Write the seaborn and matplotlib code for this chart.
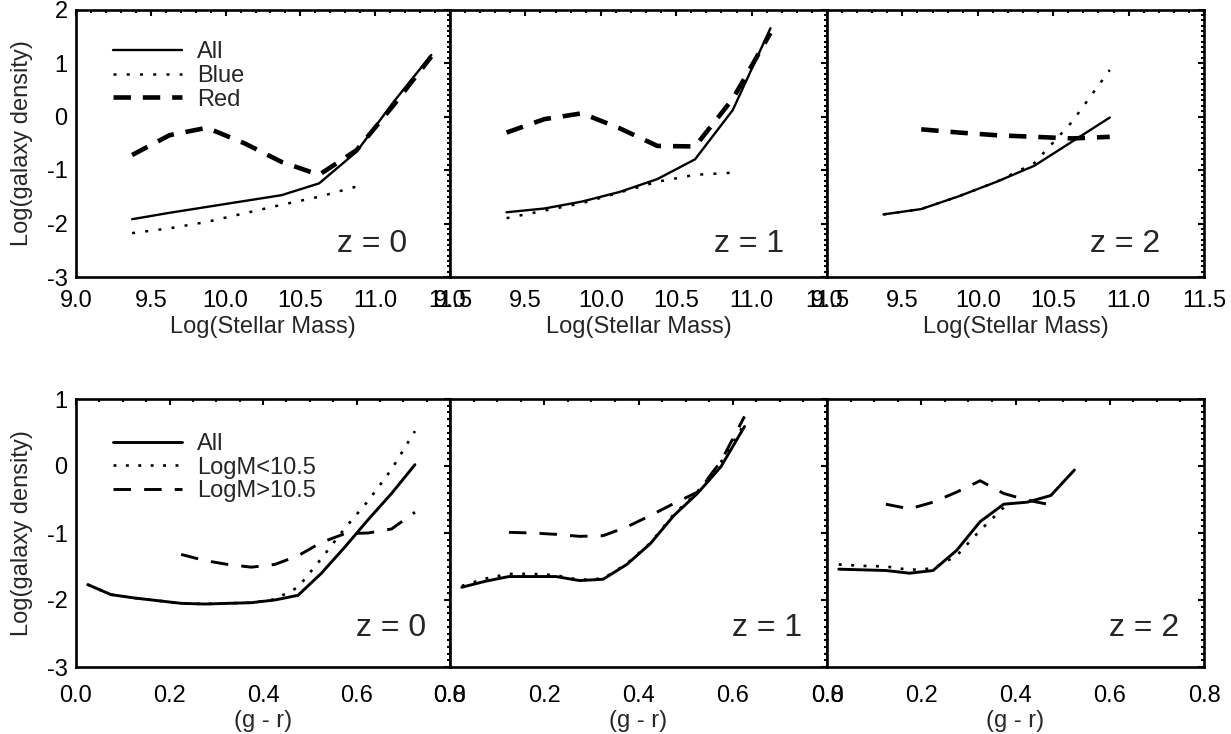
import numpy as np
import pandas as pd
import matplotlib
matplotlib.use("Agg")
import matplotlib.pyplot as plt
import seaborn as sns
from matplotlib.ticker import MultipleLocator, FormatStrFormatter

# ---------------- data ----------------
mass_bins = [9.375, 9.625, 9.875, 10.125, 10.375, 10.625, 10.875, 11.125, 11.375]

all_z0 = [-1.92, -1.80, -1.69, -1.58, -1.47, -1.25, -0.66, 0.28, 1.15]
blue_z0 = [-2.18, -2.09, -1.97, -1.81, -1.65, -1.50, -1.31]
red_z0 = [-0.72, -0.35, -0.21, -0.50, -0.85, -1.09, -0.63, 0.22, 1.12]

all_z1 = [-1.79, -1.72, -1.59, -1.41, -1.17, -0.80, 0.12, 1.65]
blue_z1 = [-1.90, -1.76, -1.62, -1.42, -1.22, -1.09, -1.05]
red_z1 = [-0.30, -0.05, 0.06, -0.22, -0.55, -0.56, 0.33, 1.56]

all_z2 = [-1.83, -1.73, -1.49, -1.22, -0.92, -0.47, -0.02]
blue_z2 = [-1.83, -1.73, -1.49, -1.22, -0.87, -0.10, 0.87]
red_z2 = [-0.24, -0.30, -0.35, -0.38, -0.41, -0.38]
red_z2_start = 1  # red z=2 series starts at the second mass bin

gr_bins = [0.025, 0.075, 0.125, 0.175, 0.225, 0.275, 0.325, 0.375,
           0.425, 0.475, 0.525, 0.575, 0.625, 0.675, 0.725]

gall_z0 = [-1.77, -1.92, -1.97, -2.01, -2.05, -2.06, -2.05, -2.04,
           -2.00, -1.93, -1.60, -1.21, -0.80, -0.41, 0.02]
glow_z0 = [-1.77, -1.92, -1.97, -2.01, -2.05, -2.06, -2.05, -2.04,
           -1.99, -1.81, -1.38, -0.93, -0.52, -0.05, 0.52]
ghigh_z0 = [-1.32, -1.41, -1.47, -1.51, -1.47, -1.34, -1.14, -1.01,
            -1.00, -0.94, -0.69]
ghigh_z0_start = 4

gall_z1 = [-1.81, -1.72, -1.65, -1.65, -1.65, -1.71, -1.69, -1.47,
           -1.16, -0.74, -0.41, -0.01, 0.59]
glow_z1 = [-1.79, -1.68, -1.61, -1.61, -1.63, -1.70, -1.68, -1.46,
           -1.15, -0.72, -0.39, 0.06, 0.63]
ghigh_z1 = [-0.99, -1.00, -1.02, -1.05, -1.04, -0.91, -0.74, -0.56,
            -0.39, 0.07, 0.74]
ghigh_z1_start = 2

gall_z2 = [-1.54, -1.55, -1.56, -1.60, -1.56, -1.26, -0.83, -0.57,
           -0.54, -0.44, -0.06]
glow_z2 = [-1.47, -1.49, -1.50, -1.55, -1.53, -1.34, -0.96, -0.62]
ghigh_z2 = [-0.57, -0.64, -0.54, -0.39, -0.22, -0.41, -0.51, -0.58]
ghigh_z2_start = 2

redshift_labels = ["z = 0", "z = 1", "z = 2"]
top_legend = ["All", "Blue", "Red"]
bottom_legend = ["All", "LogM<10.5", "LogM>10.5"]

# ---------------- style ----------------
sns.set_style("white")
plt.rcParams["font.family"] = ["Liberation Sans", "DejaVu Sans"]
plt.rcParams["axes.unicode_minus"] = False
FS = 17

fig = plt.figure(figsize=(12.31, 7.34), dpi=100)
W, H = 1231.0, 734.0
lefts = [76, 450, 827]
widths = [374, 377, 377]


def make_ax(i, top_px, bot_px):
    return fig.add_axes([lefts[i] / W, (H - bot_px) / H, widths[i] / W,
                         (bot_px - top_px) / H])


def style_ax(ax, xlim, ylim, xmaj, xmin, show_ylabels, xpad):
    ax.set_xlim(*xlim)
    ax.set_ylim(*ylim)
    ax.xaxis.set_major_locator(MultipleLocator(xmaj))
    ax.xaxis.set_minor_locator(MultipleLocator(xmin))
    ax.yaxis.set_major_locator(MultipleLocator(1))
    ax.yaxis.set_minor_locator(MultipleLocator(0.1))
    ax.xaxis.set_major_formatter(FormatStrFormatter("%.1f"))
    ax.yaxis.set_major_formatter(FormatStrFormatter("%d"))
    ax.tick_params(which="both", direction="in", top=True, right=True,
                   color="black", width=1.5, labelsize=FS, labelcolor="black")
    ax.tick_params(which="major", length=4.0)
    ax.tick_params(which="minor", length=2.0)
    ax.tick_params(axis="x", which="major", pad=xpad)
    ax.tick_params(axis="y", which="major", pad=6)
    if not show_ylabels:
        ax.tick_params(axis="y", labelleft=False)
    for s in ax.spines.values():
        s.set_linewidth(1.9)
        s.set_color("black")
    ax.grid(False)


def line(ax, x, y, lw, ls, label=None):
    sns.lineplot(x=x, y=y, ax=ax, color="black", linewidth=lw,
                 linestyle=ls, label=label, legend=False, errorbar=None)


solid = "-"
dot_top = (0, (1.2, 4.1))
dash_thick = (0, (3.8, 2.6))
dot_bot = (0, (1.1, 3.6))
dash_bot = (0, (6.0, 4.5))

# ---------------- top row ----------------
top_sets = [
    (all_z0, blue_z0, red_z0, 0),
    (all_z1, blue_z1, red_z1, 0),
    (all_z2, blue_z2, red_z2, red_z2_start),
]
for i, (a, b, r, rs) in enumerate(top_sets):
    ax = make_ax(i, 9.5, 277)
    line(ax, mass_bins[:len(a)], a, 1.7, solid, top_legend[0])
    line(ax, mass_bins[:len(b)], b, 1.8, dot_top, top_legend[1])
    line(ax, mass_bins[rs:rs + len(r)], r, 3.3, dash_thick, top_legend[2])
    style_ax(ax, (9.0, 11.5), (-3, 2), 0.5, 0.1, i == 0, 9.5)
    ax.set_xlabel("Log(Stellar Mass)", fontsize=FS, labelpad=3)
    if i == 0:
        ax.set_ylabel("Log(galaxy density)", fontsize=FS, labelpad=10)
        ax.legend(loc="upper left", bbox_to_anchor=(0.099, 0.881),
                  frameon=False, fontsize=FS, handlelength=2.92,
                  handletextpad=0.64, labelspacing=0.07, borderpad=0,
                  borderaxespad=0)
    ax.text(0.885, 0.093, redshift_labels[i], transform=ax.transAxes,
            ha="right", va="baseline", fontsize=23)

# ---------------- bottom row ----------------
bot_sets = [
    (gall_z0, glow_z0, ghigh_z0, ghigh_z0_start),
    (gall_z1, glow_z1, ghigh_z1, ghigh_z1_start),
    (gall_z2, glow_z2, ghigh_z2, ghigh_z2_start),
]
for i, (a, lo, hi, hs) in enumerate(bot_sets):
    ax = make_ax(i, 399, 667)
    line(ax, gr_bins[:len(a)], a, 2.1, solid, bottom_legend[0])
    line(ax, gr_bins[:len(lo)], lo, 1.9, dot_bot, bottom_legend[1])
    line(ax, gr_bins[hs:hs + len(hi)], hi, 2.1, dash_bot, bottom_legend[2])
    style_ax(ax, (0.0, 0.8), (-3, 1), 0.2, 0.05, i == 0, 13)
    ax.set_xlabel("(g - r)", fontsize=FS, labelpad=2)
    if i == 0:
        ax.set_ylabel("Log(galaxy density)", fontsize=FS, labelpad=10)
        ax.legend(loc="upper left", bbox_to_anchor=(0.099, 0.873),
                  frameon=False, fontsize=FS, handlelength=2.92,
                  handletextpad=0.64, labelspacing=0.07, borderpad=0,
                  borderaxespad=0)
    ax.text(0.935, 0.115, redshift_labels[i], transform=ax.transAxes,
            ha="right", va="baseline", fontsize=23)

fig.savefig("out.png", dpi=100)
